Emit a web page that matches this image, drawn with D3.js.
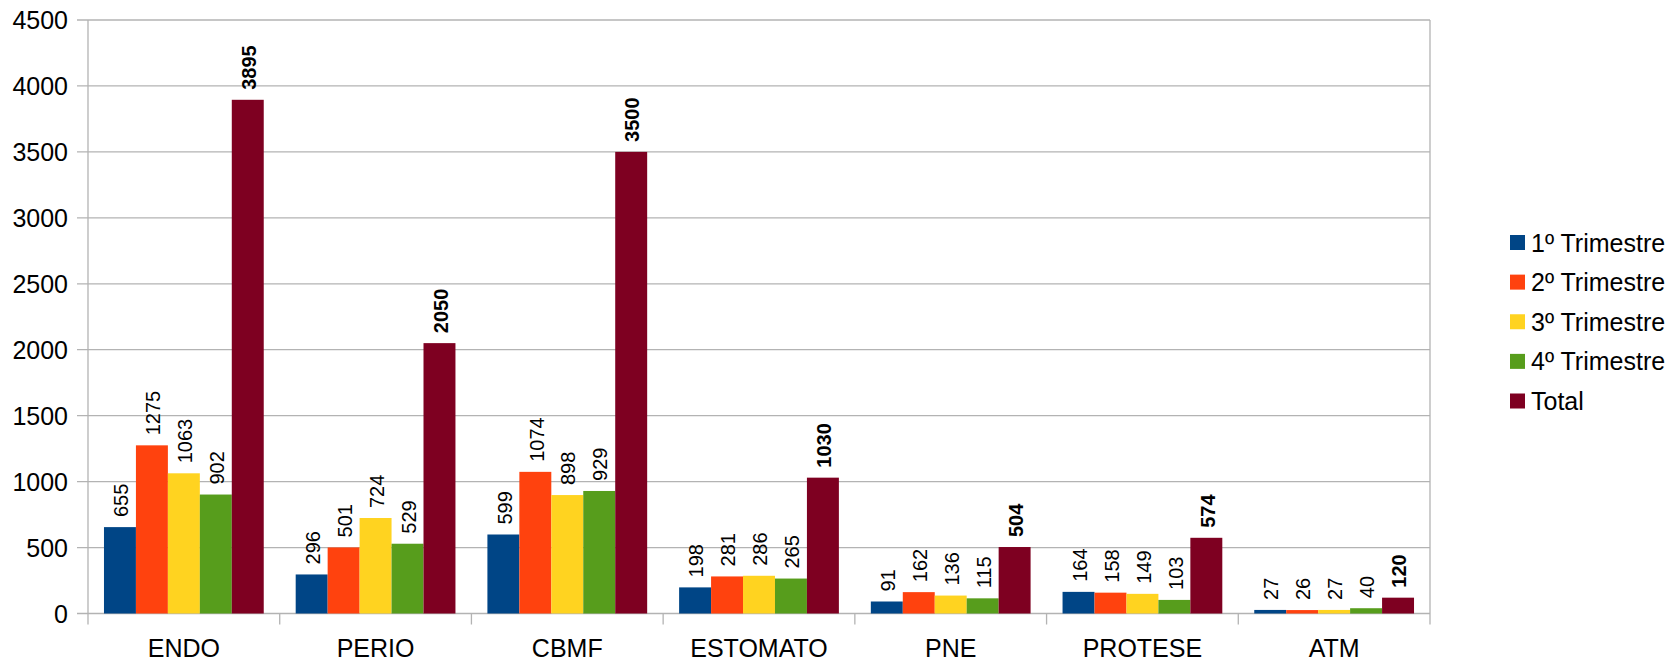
<!DOCTYPE html>
<html>
<head>
<meta charset="utf-8">
<script src="https://cdn.jsdelivr.net/npm/d3@7"></script>
<style>
  html, body { margin: 0; padding: 0; background: #fff; }
  svg { display: block; font-family: "Liberation Sans", Arial, sans-serif; }
</style>
</head>
<body>
<svg id="chart" width="1677" height="661"></svg>
<script>
const categories = ["ENDO", "PERIO", "CBMF", "ESTOMATO", "PNE", "PROTESE", "ATM"];
const seriesNames = ["1º Trimestre", "2º Trimestre", "3º Trimestre", "4º Trimestre", "Total"];
const trim1 = [655, 296, 599, 198, 91, 164, 27];
const trim2 = [1275, 501, 1074, 281, 162, 158, 26];
const trim3 = [1063, 724, 898, 286, 136, 149, 27];
const trim4 = [902, 529, 929, 265, 115, 103, 40];
const total = [3895, 2050, 3500, 1030, 504, 574, 120];
const yTicks = [0, 500, 1000, 1500, 2000, 2500, 3000, 3500, 4000, 4500];
const colors = ["#004586", "#ff420e", "#ffd320", "#579d1c", "#7e0021"];

const series = [trim1, trim2, trim3, trim4, total];

const svg = d3.select("#chart");
const pLeft = 88, pRight = 1430, pTop = 20, pBottom = 613.5;

const x = d3.scaleBand().domain(categories).range([pLeft, pRight]).paddingInner(0).paddingOuter(0);
const inner = d3.scaleBand().domain(d3.range(series.length)).range([0, x.bandwidth()]).paddingInner(0).paddingOuter(0.5);
const y = d3.scaleLinear().domain([0, 4500]).range([pBottom, pTop]);

// gridlines
svg.append("g").selectAll("line").data(yTicks).join("line")
  .attr("x1", pLeft - 11).attr("x2", pRight)
  .attr("y1", d => y(d)).attr("y2", d => y(d))
  .attr("stroke", "#b3b3b3").attr("stroke-width", 1.3);

// y labels
svg.append("g").selectAll("text").data(yTicks).join("text")
  .attr("x", 68).attr("y", d => y(d)).attr("dy", "0.36em")
  .attr("text-anchor", "end").attr("font-size", 25).attr("fill", "#000")
  .text(d => d);

// vertical axis lines
svg.append("line").attr("x1", pLeft).attr("x2", pLeft).attr("y1", pTop).attr("y2", pBottom + 11)
  .attr("stroke", "#b3b3b3").attr("stroke-width", 1.3);
svg.append("line").attr("x1", pRight).attr("x2", pRight).attr("y1", pTop).attr("y2", pBottom + 11)
  .attr("stroke", "#b3b3b3").attr("stroke-width", 1.3);
// category ticks
svg.append("g").selectAll("line").data(categories.slice(1)).join("line")
  .attr("x1", d => x(d)).attr("x2", d => x(d))
  .attr("y1", pBottom).attr("y2", pBottom + 11)
  .attr("stroke", "#b3b3b3").attr("stroke-width", 1.3);

// bars
const groups = svg.append("g").selectAll("g").data(series).join("g")
  .attr("fill", (d, i) => colors[i]);
groups.each(function(vals, si) {
  const g = d3.select(this);
  g.selectAll("rect").data(vals).join("rect")
    .attr("x", (d, ci) => x(categories[ci]) + inner(si))
    .attr("width", inner.bandwidth())
    .attr("y", d => y(d))
    .attr("height", d => pBottom - y(d));
});

// data labels
series.forEach((vals, si) => {
  svg.append("g").selectAll("text").data(vals).join("text")
    .attr("transform", (d, ci) => {
      const cx = x(categories[ci]) + inner(si) + inner.bandwidth() / 2 + 1;
      const cy = y(d) - 10;
      return `translate(${cx},${cy}) rotate(-90)`;
    })
    .attr("dy", "0.36em")
    .attr("text-anchor", "start")
    .attr("font-size", 20)
    .attr("font-weight", si === 4 ? "bold" : "normal")
    .attr("fill", "#000")
    .text(d => d);
});

// category labels
svg.append("g").selectAll("text").data(categories).join("text")
  .attr("x", d => x(d) + x.bandwidth() / 2)
  .attr("y", 648).attr("dy", "0.36em")
  .attr("text-anchor", "middle").attr("font-size", 25).attr("fill", "#000")
  .text(d => d);

// legend
const legY = d3.scaleLinear().domain([0, 4]).range([242.5, 401]);
const leg = svg.append("g").selectAll("g").data(seriesNames).join("g")
  .attr("transform", (d, i) => `translate(1510,${legY(i)})`);
leg.append("rect").attr("x", 0).attr("y", -7.5).attr("width", 15).attr("height", 15)
  .attr("fill", (d, i) => colors[i]);
leg.append("text").attr("x", 21).attr("y", 0).attr("dy", "0.36em")
  .attr("font-size", 25).attr("fill", "#000").text(d => d);
</script>
</body>
</html>
